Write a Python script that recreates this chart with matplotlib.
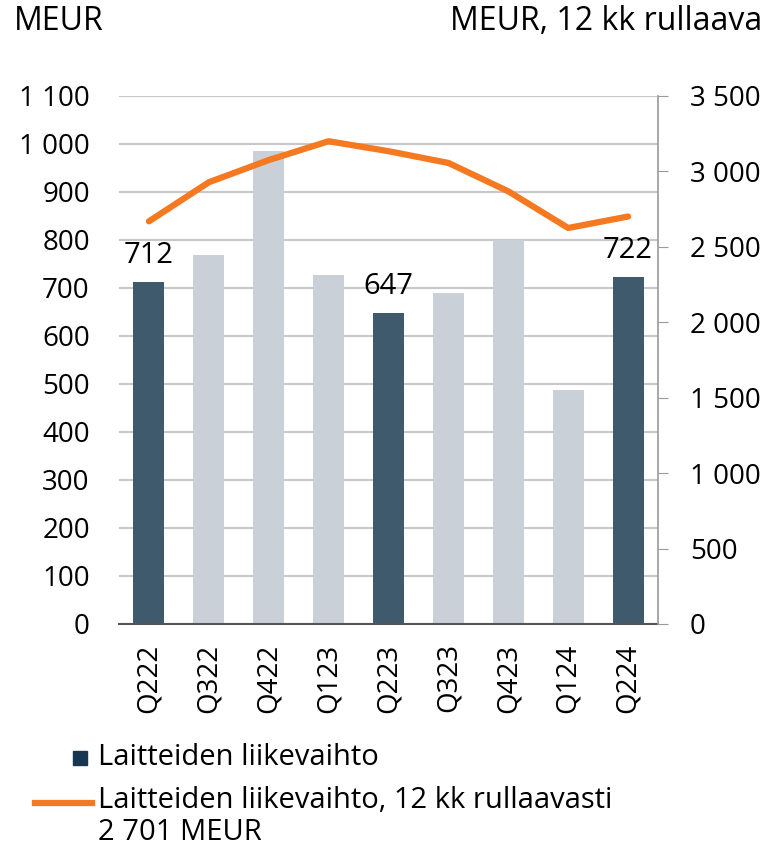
import matplotlib
matplotlib.use("Agg")
import matplotlib.pyplot as plt
from matplotlib.lines import Line2D
from matplotlib.patches import Rectangle
import numpy as np

plt.rcParams['font.family'] = ['Open Sans', 'DejaVu Sans']

quarters = ['Q222', 'Q322', 'Q422', 'Q123', 'Q223', 'Q323', 'Q423', 'Q124', 'Q224']
revenue = [712, 768, 986, 728, 647, 689, 799, 487, 722]
rolling = [2669, 2928, 3075, 3200, 3134, 3056, 2868, 2625, 2701]
highlight = [True, False, False, False, True, False, False, False, True]

dark = '#405a6d'
light = '#c9d0d7'
orange = '#f47920'
grid = '#c8c8cc'

fig = plt.figure(figsize=(7.69, 8.47), dpi=100)
ax = fig.add_axes([0.1547, 0.2633, 0.7010, 0.6234])
ax2 = ax.twinx()

x = np.arange(len(quarters))
colors = [dark if h else light for h in highlight]
ax.bar(x, revenue, width=0.52, color=colors, zorder=2)
for xi, v, h in zip(x, revenue, highlight):
    if h:
        ax.annotate(str(v), (xi, v), xytext=(0, 9), textcoords='offset points',
                    ha='center', va='bottom', fontsize=21)

ax2.plot(x, rolling, color=orange, lw=4.5, solid_capstyle='round', zorder=3)

ax.set_xlim(-0.5, len(quarters) - 0.5)
ax.set_ylim(0, 1100)
ax2.set_ylim(0, 3500)
ax.set_yticks(range(0, 1101, 100))
ax2.set_yticks(range(0, 3501, 500))
fmt = lambda v: f'{int(v):,}'.replace(',', ' ')
ax.set_yticklabels([fmt(v) for v in range(0, 1101, 100)])
ax2.set_yticklabels([fmt(v) for v in range(0, 3501, 500)])
ax.yaxis.grid(True, color=grid, lw=1.5, zorder=0)
ax.set_axisbelow(True)
ax.set_xticks(x)
ax.set_xticklabels(quarters, rotation=90)

for a in (ax, ax2):
    a.spines['top'].set_visible(False)
    a.spines['left'].set_visible(False)
    a.tick_params(labelsize=20)
ax.spines['right'].set_visible(False)
ax2.spines['bottom'].set_visible(False)
ax.spines['bottom'].set_color('#555555')
ax.spines['bottom'].set_linewidth(1.5)
ax2.spines['right'].set_color('#9a9a9a')
ax2.spines['right'].set_linewidth(1.2)
ax.tick_params(axis='y', length=0, pad=21)
ax.tick_params(axis='x', length=0, pad=14)
ax2.tick_params(axis='y', length=7, color='#9a9a9a', pad=16)

fig.text(14 / 769, 1 - 22 / 847, 'MEUR', fontsize=23, va='center', ha='left')
fig.text(762 / 769, 1 - 22 / 847, 'MEUR, 12 kk rullaava', fontsize=23, va='center', ha='right')

# legend
fig.add_artist(Rectangle((73 / 769, 1 - 765 / 847), 14 / 769, 14 / 847,
                         color='#17364f', transform=fig.transFigure))
fig.add_artist(Line2D([35 / 769, 92 / 769], [1 - 803 / 847, 1 - 803 / 847],
                      color=orange, lw=4.5, transform=fig.transFigure))
fig.text(98 / 769, 1 - 757 / 847, 'Laitteiden liikevaihto', fontsize=21, va='center')
fig.text(98 / 769, 1 - 800 / 847, 'Laitteiden liikevaihto, 12 kk rullaavasti', fontsize=21, va='center')
fig.text(98 / 769, 1 - 832 / 847, '2 701 MEUR', fontsize=21, va='center')

fig.savefig('out.png', dpi=100)
